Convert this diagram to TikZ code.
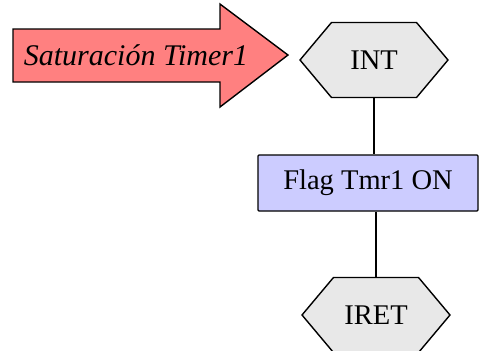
\documentclass[tikz,border=0pt]{standalone}
\usepackage{fontspec}
\setmainfont{Liberation Serif}
\usetikzlibrary{shapes.symbols,positioning}
\definecolor{satfill}{RGB}{255,128,128}
\definecolor{flagfill}{RGB}{204,204,255}
\definecolor{hexfill}{RGB}{232,232,232}
\begin{document}
\begin{tikzpicture}[x=1pt,y=-1pt,font=\fontsize{28.5}{30}\selectfont,
  hexa/.style={draw,line width=1.4pt,fill=hexfill,shape=signal,signal to=west and east,
    signal pointer angle=100,minimum width=148pt,minimum height=75pt,inner sep=0pt},
  flagbox/.style={draw,line width=1.4pt,fill=flagfill,minimum width=220pt,minimum height=56pt,rounded corners=1pt},
  link/.style={line width=1.4pt}]
 \useasboundingbox (0,0) rectangle (480,351);
 % pointer
 \draw[line width=1.4pt,fill=satfill] (13,29) -- (220,29) -- (220,4) -- (288,55) -- (220,107) -- (220,82) -- (13,82) -- cycle;
 \node[font=\itshape\fontsize{30}{32}\selectfont] (sat) at (136,55) {Saturación Timer1};
 % flow
 \node[hexa] (int) at (374,60) {INT};
 \node[flagbox] (flag) at (368,183) {Flag Tmr1 ON};
 \node[hexa] (iret) at (376,315) {IRET};
 \draw[link] (int.south) -- (int.south|-flag.north);
 \draw[link] (iret.north|-flag.south) -- (iret.north);
\end{tikzpicture}
\end{document}
